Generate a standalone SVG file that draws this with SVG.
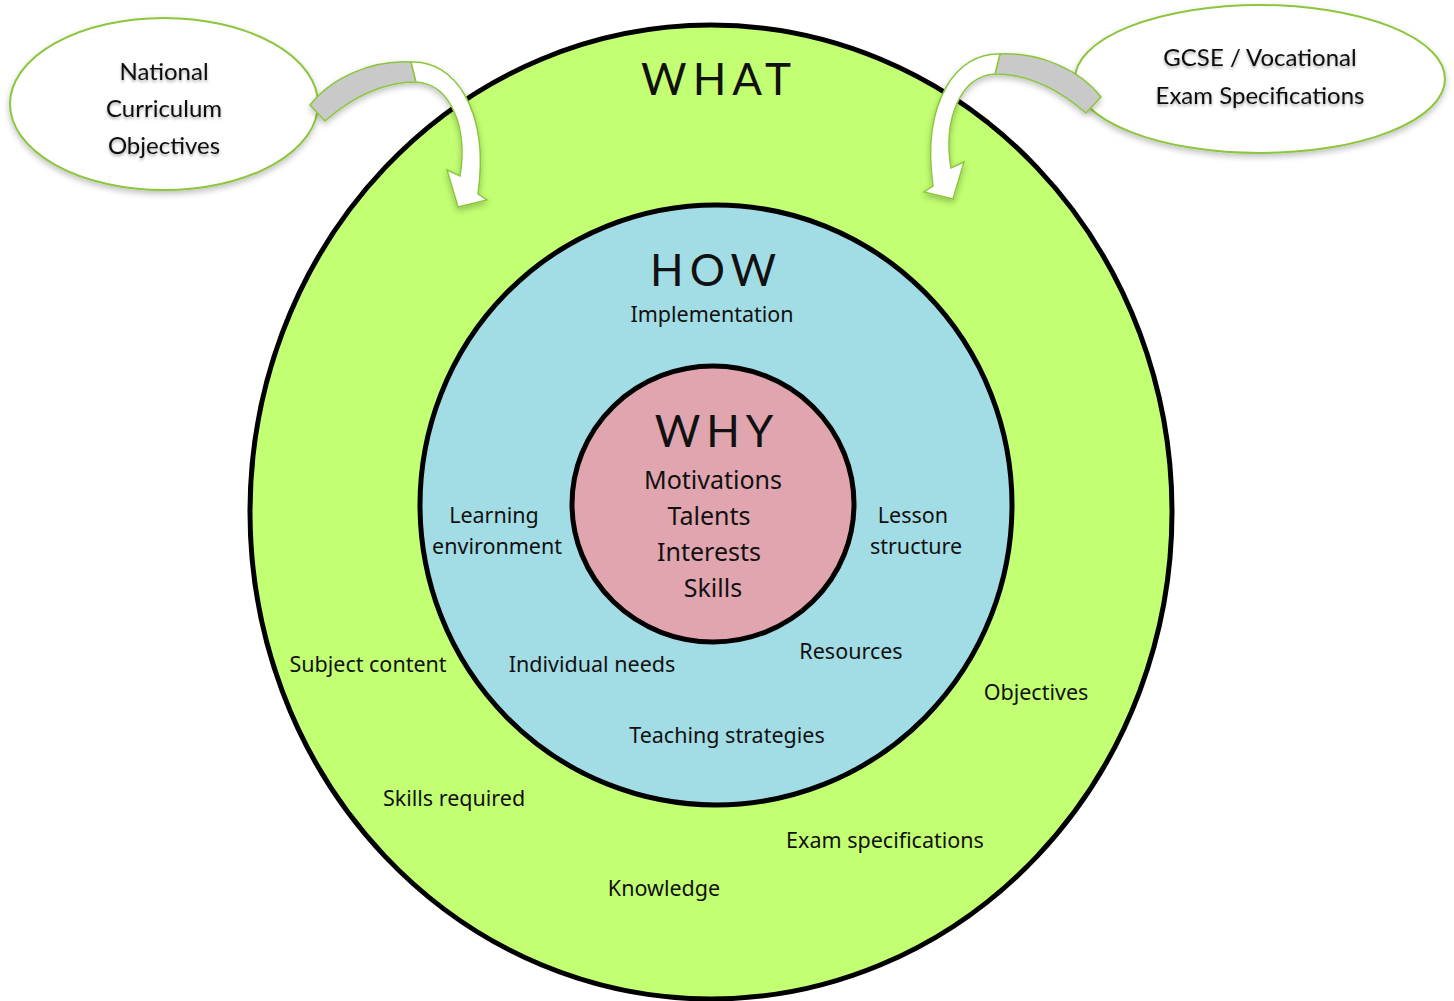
<svg xmlns="http://www.w3.org/2000/svg" width="1454" height="1001" viewBox="0 0 1454 1001">
<defs>
<filter id="sh" x="-20%" y="-20%" width="140%" height="150%">
<feGaussianBlur in="SourceAlpha" stdDeviation="3"/>
<feOffset dx="0" dy="3" result="b"/>
<feComponentTransfer><feFuncA type="linear" slope="0.25"/></feComponentTransfer>
<feMerge><feMergeNode/><feMergeNode in="SourceGraphic"/></feMerge>
</filter>
<filter id="tg" x="-10%" y="-30%" width="120%" height="160%">
<feGaussianBlur in="SourceAlpha" stdDeviation="1.5"/>
<feOffset dx="0" dy="1.5"/>
<feComponentTransfer><feFuncA type="linear" slope="0.35"/></feComponentTransfer>
<feMerge><feMergeNode/><feMergeNode in="SourceGraphic"/></feMerge>
</filter>
</defs>
<style>
.ring{stroke:#000;stroke-width:5}
.big{font-family:"Lato","Noto Sans",sans-serif;font-weight:400;fill:#111;text-anchor:middle;letter-spacing:6px}
.lbl{font-family:"Noto Sans",sans-serif;font-size:21.5px;fill:#111;text-anchor:middle}
.why{font-family:"Noto Sans",sans-serif;font-size:25px;fill:#111;text-anchor:middle}
.bub{fill:#fff;stroke:#8cc63e;stroke-width:2}
.btx{font-family:"Lato","Open Sans",sans-serif;font-size:24px;fill:#111;text-anchor:middle}
.band{fill:#c9c9c9;stroke:#8cc63e;stroke-width:1.5}
.arw{fill:#fff;stroke:#8cc63e;stroke-width:1.5}
</style>
<rect width="1454" height="1001" fill="#fff"/>
<g id="what">
<ellipse class="ring" cx="711" cy="512" rx="461" ry="487" fill="#c2ff72"/>
<text class="big" x="719" y="95" font-size="44">WHAT</text>
<text class="lbl" x="368" y="672">Subject content</text>
<text class="lbl" x="1036" y="700">Objectives</text>
<text class="lbl" x="454" y="806">Skills required</text>
<text class="lbl" x="885" y="848">Exam specifications</text>
<text class="lbl" x="664" y="896">Knowledge</text>
</g>
<g id="how">
<ellipse class="ring" cx="716" cy="505" rx="296" ry="300" fill="#a2dce4"/>
<text class="big" x="716" y="286" font-size="44">HOW</text>
<text class="lbl" x="712" y="322">Implementation</text>
<text class="lbl" x="494" y="523">Learning</text>
<text class="lbl" x="497" y="554">environment</text>
<text class="lbl" x="913" y="523">Lesson</text>
<text class="lbl" x="916" y="554">structure</text>
<text class="lbl" x="592" y="672">Individual needs</text>
<text class="lbl" x="851" y="659">Resources</text>
<text class="lbl" x="727" y="743">Teaching strategies</text>
</g>
<g id="why">
<ellipse class="ring" cx="713" cy="504" rx="141" ry="138" fill="#e0a5ae"/>
<text class="big" x="717" y="447" font-size="44">WHY</text>
<text class="why" x="713" y="489">Motivations</text>
<text class="why" x="709" y="525">Talents</text>
<text class="why" x="709" y="561">Interests</text>
<text class="why" x="713" y="597">Skills</text>
</g>
<g id="national">
<ellipse class="bub" cx="164" cy="104" rx="154" ry="86" filter="url(#sh)"/>
<g filter="url(#tg)">
<text class="btx" x="164" y="80">National</text>
<text class="btx" x="164" y="117">Curriculum</text>
<text class="btx" x="164" y="154">Objectives</text>
</g>
</g>
<g id="gcse">
<ellipse class="bub" cx="1260" cy="79" rx="185" ry="74" filter="url(#sh)"/>
<g filter="url(#tg)">
<text class="btx" x="1260" y="66">GCSE / Vocational</text>
<text class="btx" x="1260" y="104">Exam Specifications</text>
</g>
</g>
<g id="connectors">
<g filter="url(#sh)">
<path class="band" d="M1101,97 C1080,70 1040,52 1000,54 L995,74 C1030,74 1062,92 1086,113 Z"/>
<path class="arw" d="M1000,54 C958,52 921,100 933,186 L924,192 L953,199 L964,162 L951,168 C943,120 960,76 995,74 Z"/>
</g>
<g filter="url(#sh)" transform="translate(1411,8) scale(-1,1)">
<path class="band" d="M1101,97 C1080,70 1040,52 1000,54 L995,74 C1030,74 1062,92 1086,113 Z"/>
<path class="arw" d="M1000,54 C958,52 921,100 933,186 L924,192 L953,199 L964,162 L951,168 C943,120 960,76 995,74 Z"/>
</g>
</g>
</svg>
